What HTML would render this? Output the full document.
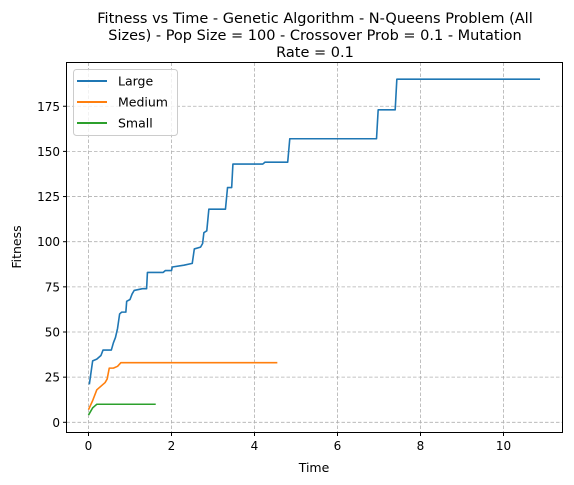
<!DOCTYPE html>
<html><head><meta charset="utf-8"><style>
body{margin:0;background:#fff;}
svg{display:block;font-family:"DejaVu Sans","Liberation Sans",sans-serif;}
</style></head><body>
<svg id="chart" width="574" height="485" xmlns="http://www.w3.org/2000/svg">
<g font-size="14.5" text-anchor="middle" fill="#000">
<text x="315" y="23">Fitness vs Time - Genetic Algorithm - N-Queens Problem (All</text>
<text x="315" y="40">Sizes) - Pop Size = 100 - Crossover Prob = 0.1 - Mutation</text>
<text x="315" y="57">Rate = 0.1</text>
</g>
<g id="grid"></g>
<g id="series"></g>
<rect x="66.5" y="62.5" width="496" height="370" fill="none" stroke="#000" stroke-width="1"/>
<g id="ticks" font-size="12" fill="#000"></g>
<text x="314" y="472" font-size="12.5" text-anchor="middle">Time</text>
<text x="21" y="247" font-size="12.5" text-anchor="middle" transform="rotate(-90 21 247)">Fitness</text>
<g>
<rect x="73.5" y="69.5" width="104" height="66" rx="3" fill="#fff" fill-opacity="0.8" stroke="#ccc"/>
<g><line x1="77" y1="81" x2="107" y2="81" stroke="#1f77b4" stroke-width="2"/><text x="118" y="85.5" font-size="12.5">Large</text></g>
<g><line x1="77" y1="102" x2="107" y2="102" stroke="#ff7f0e" stroke-width="2"/><text x="118" y="106.5" font-size="12.5">Medium</text></g>
<g><line x1="77" y1="123" x2="107" y2="123" stroke="#2ca02c" stroke-width="2"/><text x="118" y="127.5" font-size="12.5">Small</text></g>
</g>
</svg>
<script>
const xTicks=[0,2,4,6,8,10];
const yTicks=[0,25,50,75,100,125,150,175];
const largeT=[0.02,0.1,0.2,0.3,0.35,0.55,0.6,0.65,0.7,0.75,0.8,0.9,0.92,1.0,1.05,1.1,1.3,1.4,1.42,1.8,1.85,2.0,2.02,2.3,2.5,2.55,2.7,2.75,2.78,2.85,2.9,3.3,3.35,3.45,3.48,4.2,4.25,4.8,4.85,6.94,6.98,7.39,7.43,10.88];
const largeF=[21,34,35,37,40,40,44,47,52,60,61,61,67,68,71,73,74,74,83,83,84,84,86,87,88,96,97,99,105,106,118,118,130,130,143,143,144,144,157,157,173,173,190,190];
const mediumT=[0,0.1,0.2,0.3,0.4,0.45,0.5,0.6,0.7,0.78,4.55];
const mediumF=[7,12,18,20,22,24,30,30,31,33,33];
const smallT=[0,0.1,0.15,0.2,1.62];
const smallF=[4,8,9,10,10];
const X=v=>88.5+v*41.5;
const Y=v=>422.3-v*1.806;
const NS="http://www.w3.org/2000/svg";
const grid=document.getElementById('grid'),ticks=document.getElementById('ticks'),ser=document.getElementById('series');
function mk(tag,attrs,parent){const e=document.createElementNS(NS,tag);for(const k in attrs)e.setAttribute(k,attrs[k]);parent.appendChild(e);return e;}
xTicks.forEach(t=>{
 const g=mk('line',{x1:X(t),x2:X(t),y1:62.5,y2:432.5,stroke:'#b0b0b0','stroke-dasharray':'3.5,2','stroke-width':0.8},grid);
 
 
 mk('line',{x1:X(t),x2:X(t),y1:432.5,y2:436,stroke:'#000'},ticks);
 const tx=mk('text',{x:X(t),y:450,'text-anchor':'middle'},ticks);tx.textContent=t;
 
 
});
yTicks.forEach(t=>{
 const g=mk('line',{x1:66.5,x2:562.5,y1:Y(t),y2:Y(t),stroke:'#b0b0b0','stroke-dasharray':'3.5,2','stroke-width':0.8},grid);
 
 
 mk('line',{x1:63,x2:66.5,y1:Y(t),y2:Y(t),stroke:'#000'},ticks);
 const tx=mk('text',{x:60,y:Y(t)+4.5,'text-anchor':'end'},ticks);tx.textContent=t;
 
 
});
function line(ts,fs,color,name){
 const p=mk('polyline',{points:ts.map((t,i)=>X(t)+','+Y(fs[i])).join(' '),fill:'none',stroke:color,'stroke-width':1.6,'stroke-linejoin':'round'},ser);
 
 
}
line(largeT,largeF,'#1f77b4','series-large');
line(mediumT,mediumF,'#ff7f0e','series-medium');
line(smallT,smallF,'#2ca02c','series-small');
</script>
</body></html>
